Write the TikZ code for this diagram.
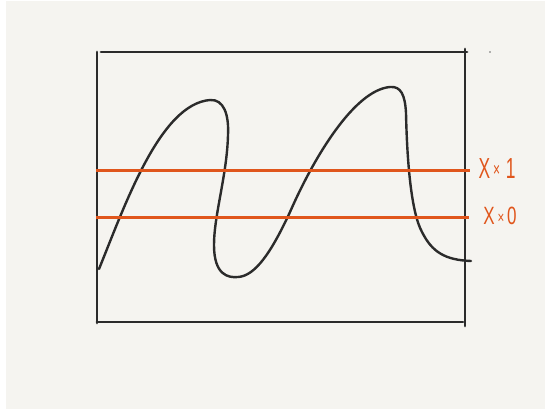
\documentclass[tikz,border=0pt]{standalone}
\usepackage{fontspec}
\setmainfont{Liberation Sans}
\definecolor{paper}{HTML}{F5F4F0}
\definecolor{ink}{HTML}{2B2B2B}
\definecolor{rust}{HTML}{E0561C}
\tikzset{
  frame/.style={draw=ink, line width=2.9pt, line cap=round},
  wave/.style={draw=ink, line width=2.4pt, line cap=round, line join=round},
  level/.style={draw=rust, line width=3pt},
  lab/.style={text=rust, inner sep=0pt, anchor=center}
}
\begin{document}
\begin{tikzpicture}[x=1pt,y=-1pt]
\useasboundingbox (0,0) rectangle (545,409);
\fill[white] (0,0) rectangle (545,409);
\fill[paper] (6,1) rectangle (545,409);
% frame
\draw[frame] (97,52) -- (97,323);
\draw[frame] (101,52) -- (467,52);
\draw[frame] (465,49) -- (465,326);
\draw[frame] (97,322) -- (463,322);
\fill[ink!70] (490,52) circle (0.9);
% wave
\draw[wave] (99,269) .. controls (125,205) and (160,104) .. (210,100)
  .. controls (224,99) and (229,115) .. (228,135)
  .. controls (227,175) and (214,215) .. (214,245)
  .. controls (214,275) and (228,278) .. (238,277)
  .. controls (255,276) and (271,253) .. (290,212)
  .. controls (315,155) and (355,90) .. (390,87)
  .. controls (401,86) and (405,95) .. (406,113)
  .. controls (407,160) and (411,212) .. (422,232)
  .. controls (432,252) and (445,260) .. (471,261);
% levels
\coordinate (a1) at (96,170);
\coordinate (a2) at (470,170);
\coordinate (b1) at (96,217);
\coordinate (b2) at (469,217);
\draw[level] (a1) -- (a2);
\draw[level] (b1) -- (b2);
% labels
\node[lab, xscale=0.6] (l1) at (497,169) {\fontsize{29}{29}\selectfont X\,\raisebox{2pt}{\fontsize{20}{20}\selectfont ×}\,\,1};
\node[lab, xscale=0.68] (l0) at (500,216) {\fontsize{25}{25}\selectfont X\,\raisebox{1pt}{\fontsize{17}{17}\selectfont ×}\,0};
\end{tikzpicture}
\end{document}
